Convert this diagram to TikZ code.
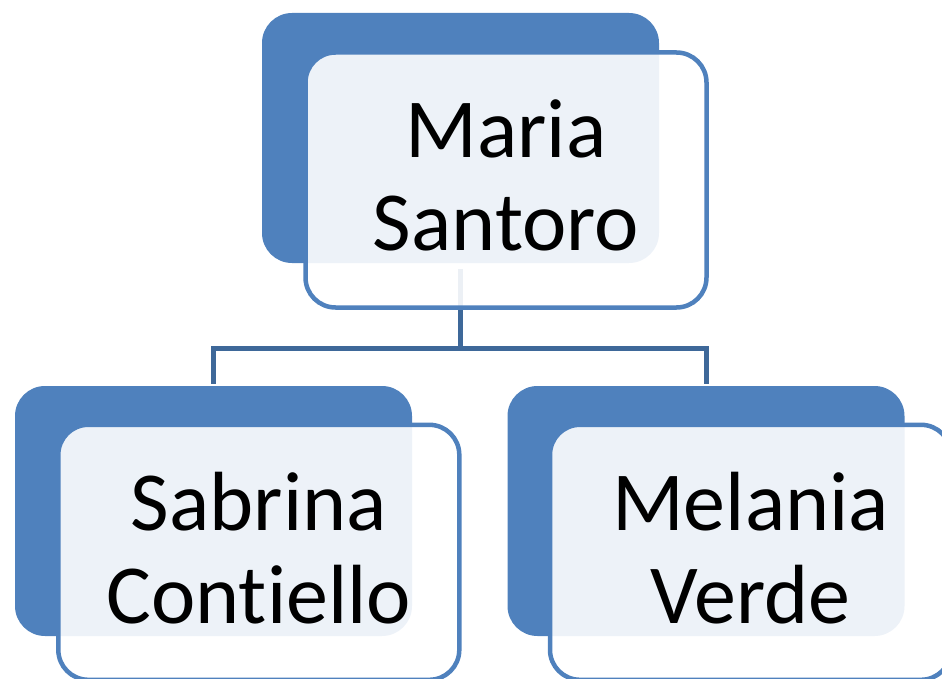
\documentclass[tikz,border=0pt]{standalone}
\usepackage{fontspec}
\setmainfont{Carlito}[Ligatures=NoCommon]
\definecolor{accent}{RGB}{79,129,189}
\definecolor{connc}{RGB}{62,104,153}
\newcommand{\liftup}{\rule[-9pt]{0pt}{0pt}}
\tikzset{
  back/.style={fill=accent, draw=none, rounded corners=30pt, minimum width=397pt, minimum height=250pt, inner sep=0pt},
  front/.style={draw=accent, line width=4.5pt, fill=white, fill opacity=0.9, text opacity=1, rounded corners=30pt,
    minimum width=401pt, minimum height=255pt, inner sep=0pt, align=center, font=\fontsize{84}{93}\selectfont},
  conn/.style={draw=connc, line width=5pt},
}
\begin{document}
\begin{tikzpicture}[x=1pt,y=-1pt]
\useasboundingbox (0,0) rectangle (942,679);
\clip (0,0) rectangle (942,679);
\node[back] (topback) at (460.5,138) {};
\node[back] (lback) at (213.5,511) {};
\node[back] (rback) at (706,511) {};
\coordinate (mid) at (460.5,348);
\draw[conn] ([yshift=-6pt]topback.south) -- (mid) -| ([yshift=2pt]lback.north);
\draw[conn] (mid) -| ([yshift=2pt]rback.north);
\node[front] (topfront) at (506,180) {Maria\\Santoro\liftup};
\node[front] (lfront) at (258.8,552.3) {Sabrina\\Contiello\liftup};
\node[front] (rfront) at (750.5,552.3) {Melania\\Verde\liftup};
\end{tikzpicture}
\end{document}
